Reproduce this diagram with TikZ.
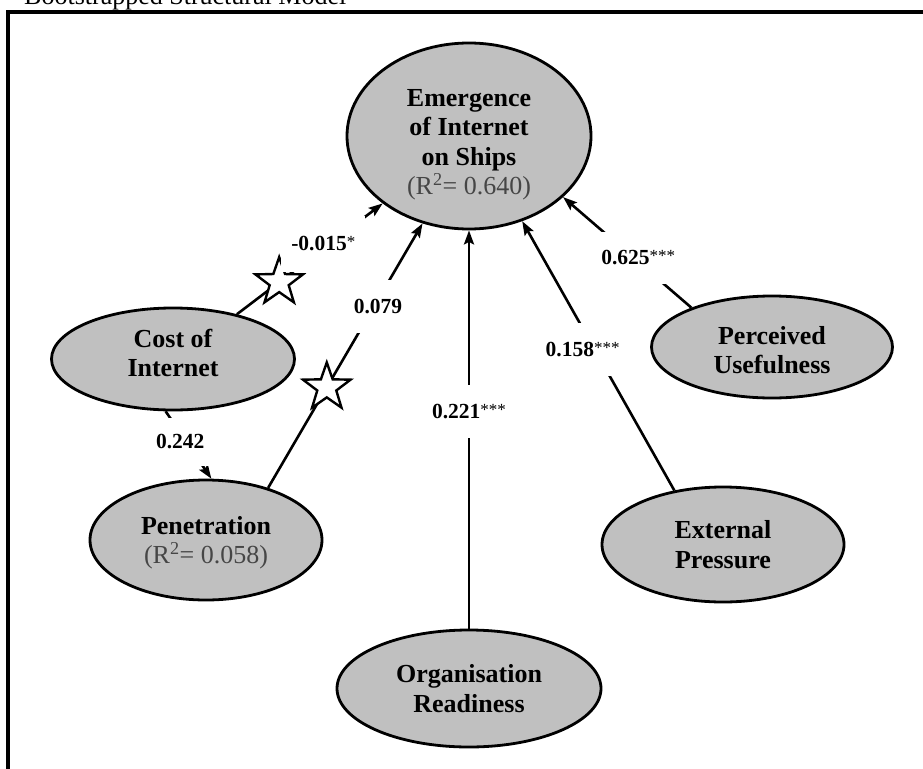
\documentclass[tikz,border=0pt]{standalone}
\usepackage{fontspec}
\setmainfont{Liberation Serif}
\usetikzlibrary{shapes.geometric,arrows.meta}
\definecolor{nodegray}{RGB}{192,192,192}
\definecolor{rtext}{RGB}{70,70,70}
\newcommand{\sigmark}[1]{\raisebox{3pt}{\fontsize{17}{17}\selectfont\mdseries #1}}
\begin{document}
\begin{tikzpicture}[x=1pt,y=-1pt,
  latent/.style={ellipse,draw=black,line width=2.8pt,fill=nodegray,inner sep=0pt,align=center,
    font=\fontsize{26}{29.5}\selectfont\bfseries},
  pathln/.style={line width=2.6pt,-{Stealth[length=14pt,width=10pt,inset=2.5pt]}},
  coef/.style={fill=white,inner sep=0pt,font=\fontsize{21.5}{24}\selectfont\bfseries},
  sigstar/.style={star,star points=5,star point ratio=2.5,minimum size=50pt,inner sep=0pt,
    draw=black,fill=white,line width=2.4pt}]
\clip (0,0) rectangle (923,768);
\fill[white] (0,0) rectangle (923,768);
\node[anchor=base west,inner sep=0pt,font=\fontsize{26}{30}\selectfont] (title) at (24,5) {Bootstrapped Structural Model};
\draw[line width=4.5pt] (8,800) -- (8,12) -- (960,12);

\node[latent,minimum width=244pt,minimum height=186pt] (emerg) at (469,136)
  {\rule{0pt}{35pt}Emergence\\of Internet\\on Ships\\{\mdseries\color{rtext}(R\textsuperscript{2}= 0.640)}};
\node[latent,minimum width=243pt,minimum height=102pt] (cost) at (173,359) {Cost of\\Internet\rule[-12pt]{0pt}{12pt}};
\node[latent,minimum width=232pt,minimum height=120pt] (pen) at (206,540)
  {\rule{0pt}{24pt}Penetration\\{\mdseries\color{rtext}(R\textsuperscript{2}= 0.058)}};
\node[latent,minimum width=241pt,minimum height=102pt] (perc) at (772,347) {\rule{0pt}{24pt}Perceived\\Usefulness};
\node[latent,minimum width=242pt,minimum height=115pt] (ext) at (723,544.5) {External\\Pressure};
\node[latent,minimum width=264pt,minimum height=117pt] (org) at (469,688.5) {Organisation\\Readiness};

\draw[pathln] (cost.35) --
  node[sigstar,pos=0.29] (s1) {}
  node[coef,pos=0.634,xshift=-6pt,minimum width=84pt,minimum height=55pt] (c1) {-0.015\sigmark{*}}
  (emerg.218);
\draw[pathln] (pen.40) --
  node[sigstar,pos=0.38] (s2) {}
  node[coef,pos=0.686,xshift=4pt,minimum width=60pt,minimum height=53pt] (c2) {0.079}
  (emerg.242);
\draw[pathln] (cost.262) --
  node[coef,pos=0.45,xshift=-6pt,minimum width=72pt,minimum height=48pt] (c3) {0.242}
  (pen.85);
\draw[pathln] (org.north) --
  node[coef,pos=0.545,minimum width=84pt,minimum height=53pt] (c4) {0.221\sigmark{***}}
  (emerg.south);
\draw[pathln] (ext.132) --
  node[coef,pos=0.524,xshift=-12pt,minimum width=80pt,minimum height=53pt] (c5) {0.158\sigmark{***}}
  (emerg.302);
\draw[pathln] (perc.154) --
  node[coef,pos=0.453,xshift=5pt,minimum width=80pt,minimum height=52pt] (c6) {0.625\sigmark{***}}
  (emerg.327);
\end{tikzpicture}
\end{document}
